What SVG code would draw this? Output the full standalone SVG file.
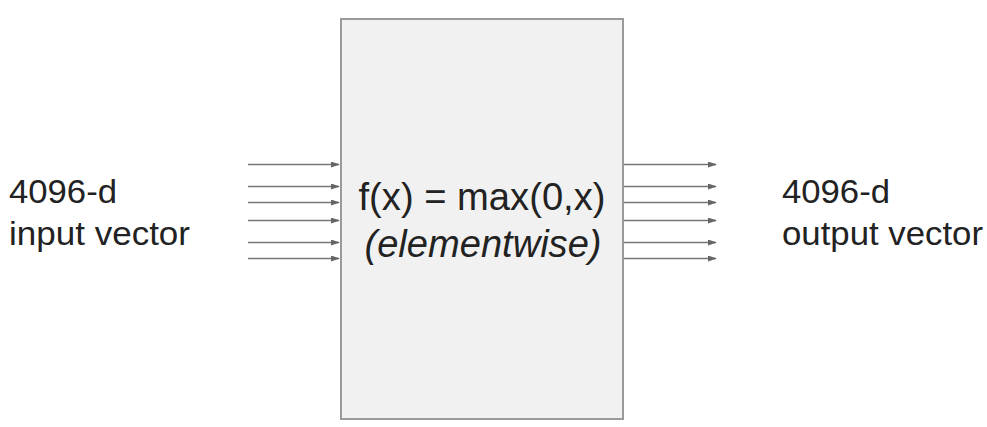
<svg xmlns="http://www.w3.org/2000/svg" width="987" height="427" viewBox="0 0 987 427">
<defs>
<marker id="ah" markerWidth="9" markerHeight="6" refX="8" refY="3" orient="auto" markerUnits="userSpaceOnUse">
<path d="M0,0 L9,3 L0,6 Z" fill="#666"/>
</marker>
<style>
.lbl{font-family:"Liberation Sans",Arial,sans-serif;font-size:34px;fill:#222;}
.ctr{font-family:"Liberation Sans",Arial,sans-serif;font-size:38px;fill:#222;text-anchor:middle;}
.conn line{stroke:#777;stroke-width:1.6;marker-end:url(#ah);}
</style>
</defs>
<rect width="987" height="427" fill="#ffffff"/>
<g id="box">
<rect x="341" y="19" width="282" height="400" fill="#f1f1f1" stroke="#9a9a9a" stroke-width="2"/>
<text class="ctr" x="482" y="210" textLength="247" lengthAdjust="spacingAndGlyphs">f(x) = max(0,x)</text>
<text class="ctr" x="483" y="257" font-style="italic" textLength="237" lengthAdjust="spacingAndGlyphs">(elementwise)</text>
</g>
<g id="input-label">
<text class="lbl" x="9" y="203" textLength="108" lengthAdjust="spacingAndGlyphs">4096-d</text>
<text class="lbl" x="9" y="245" textLength="181" lengthAdjust="spacingAndGlyphs">input vector</text>
</g>
<g id="output-label">
<text class="lbl" x="782" y="203" textLength="108" lengthAdjust="spacingAndGlyphs">4096-d</text>
<text class="lbl" x="782" y="245" textLength="201" lengthAdjust="spacingAndGlyphs">output vector</text>
</g>
<g id="connectors" class="conn">
<line x1="248" y1="164.5" x2="339" y2="164.5"/>
<line x1="248" y1="186.5" x2="339" y2="186.5"/>
<line x1="248" y1="202.5" x2="339" y2="202.5"/>
<line x1="248" y1="220.5" x2="339" y2="220.5"/>
<line x1="248" y1="242.5" x2="339" y2="242.5"/>
<line x1="248" y1="258.5" x2="339" y2="258.5"/>
<line x1="624" y1="164.5" x2="716" y2="164.5"/>
<line x1="624" y1="186.5" x2="716" y2="186.5"/>
<line x1="624" y1="202.5" x2="716" y2="202.5"/>
<line x1="624" y1="220.5" x2="716" y2="220.5"/>
<line x1="624" y1="242.5" x2="716" y2="242.5"/>
<line x1="624" y1="258.5" x2="716" y2="258.5"/>
</g>
</svg>
